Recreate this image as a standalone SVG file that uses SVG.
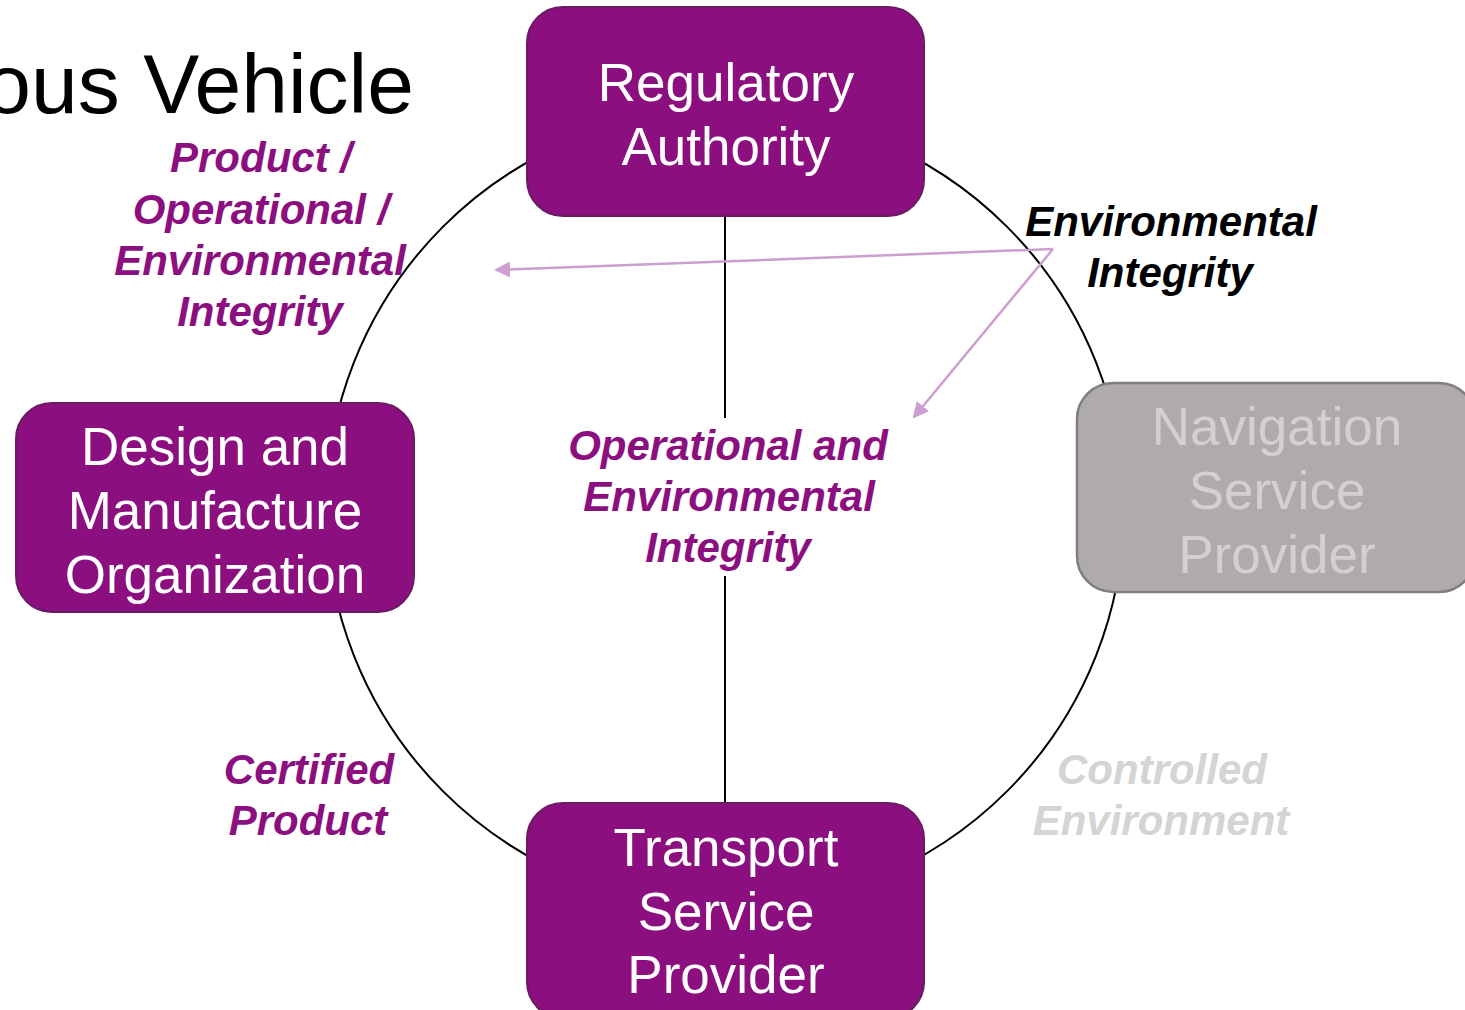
<svg xmlns="http://www.w3.org/2000/svg" width="1465" height="1010" viewBox="0 0 1465 1010">
<defs>
<style>
.box{fill:#8c0f80;stroke:#6a1a62;stroke-width:2}
.gbox{fill:#afabaa;stroke:#7f7f7f;stroke-width:2.5}
.nt{font-family:"Liberation Sans",Arial,sans-serif;font-size:53px;fill:#ffffff;text-anchor:middle}
.gt{fill:#d3d0cf}
.lb{font-family:"Liberation Sans",Arial,sans-serif;font-size:42px;font-weight:bold;font-style:italic;text-anchor:middle}
.pu{fill:#8c0f80}
.bk{fill:#000000}
.lg{fill:#d4d4d4}
.ln{fill:none;stroke:#000;stroke-width:2}
.ar{fill:none;stroke:#cc9fd0;stroke-width:2.5}
</style>
<marker id="ah" markerWidth="16" markerHeight="16" viewBox="0 0 16 16" refX="14" refY="8" orient="auto" markerUnits="userSpaceOnUse">
<path d="M0,0 L16,8 L0,16 Z" fill="#cc9fd0"/>
</marker>
</defs>
<rect width="1465" height="1010" fill="#ffffff"/>
<text x="414" y="113" font-family="'Liberation Sans',Arial,sans-serif" font-size="84" text-anchor="end" fill="#000">ous Vehicle</text>
<g id="connectors">
<circle class="ln" cx="725" cy="509" r="399"/>
<line class="ln" x1="725" y1="216" x2="725" y2="418"/>
<line class="ln" x1="725" y1="576" x2="725" y2="803"/>
</g>
<g id="regulatory">
<rect class="box" x="527" y="7" width="397" height="209" rx="36"/>
<text class="nt" x="726" y="101">Regulatory</text>
<text class="nt" x="726" y="165">Authority</text>
</g>
<g id="design">
<rect class="box" x="16" y="403" width="398" height="209" rx="36"/>
<text class="nt" x="215" y="465">Design and</text>
<text class="nt" x="215" y="529">Manufacture</text>
<text class="nt" x="215" y="593">Organization</text>
</g>
<g id="navigation">
<rect class="gbox" x="1077" y="383" width="398" height="209" rx="36"/>
<text class="nt gt" x="1277" y="445">Navigation</text>
<text class="nt gt" x="1277" y="509">Service</text>
<text class="nt gt" x="1277" y="573">Provider</text>
</g>
<g id="transport">
<rect class="box" x="527" y="803" width="397" height="215" rx="36"/>
<text class="nt" x="726" y="866">Transport</text>
<text class="nt" x="726" y="930">Service</text>
<text class="nt" x="726" y="993">Provider</text>
</g>
<g id="arrows">
<line class="ar" x1="1053" y1="249" x2="496" y2="270" marker-end="url(#ah)"/>
<line class="ar" x1="1053" y1="249" x2="914" y2="417" marker-end="url(#ah)"/>
</g>
<g id="labels">
<text class="lb pu" x="261" y="172">Product /</text>
<text class="lb pu" x="261" y="224">Operational /</text>
<text class="lb pu" x="260" y="275">Environmental</text>
<text class="lb pu" x="260" y="326">Integrity</text>
<text class="lb bk" x="1171" y="236">Environmental</text>
<text class="lb bk" x="1170" y="287">Integrity</text>
<text class="lb pu" x="728" y="460">Operational and</text>
<text class="lb pu" x="729" y="511">Environmental</text>
<text class="lb pu" x="728" y="562">Integrity</text>
<text class="lb pu" x="309" y="784">Certified</text>
<text class="lb pu" x="308" y="835">Product</text>
<text class="lb lg" x="1162" y="784">Controlled</text>
<text class="lb lg" x="1161" y="835">Environment</text>
</g>
</svg>
